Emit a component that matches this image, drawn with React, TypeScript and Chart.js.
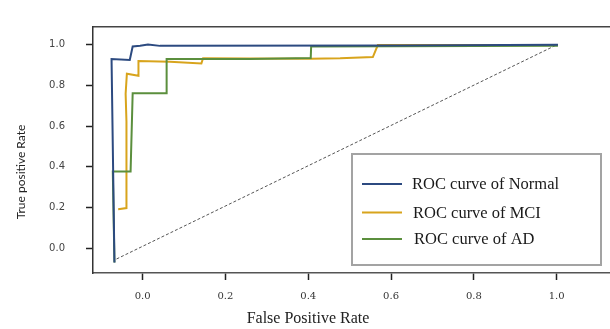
import React, { useEffect, useRef } from 'react';
import { Chart, registerables } from 'chart.js';

Chart.register(...registerables);

// ---- Data (values against the drawn axis ticks) ----
const SERIES_LABELS = ['ROC curve of Normal', 'ROC curve of MCI', 'ROC curve of AD'];

const NORMAL_FPR = [-0.068, -0.075, -0.031, -0.024, -0.006, 0.013, 0.042, 0.62, 1.003];
const NORMAL_TPR = [-0.069, 0.929, 0.925, 0.991, 0.995, 1.001, 0.994, 0.996, 0.999];

const MCI_FPR = [-0.059, -0.039, -0.038, -0.039, -0.040, -0.041, -0.038, -0.010, -0.010, 0.066, 0.142, 0.146, 0.259, 0.404, 0.477, 0.556, 0.568, 1.003];
const MCI_TPR = [0.192, 0.198, 0.235, 0.440, 0.622, 0.759, 0.857, 0.847, 0.920, 0.916, 0.908, 0.933, 0.932, 0.931, 0.933, 0.939, 0.998, 0.998];

const AD_FPR = [-0.068, -0.072, -0.029, -0.024, 0.058, 0.058, 0.259, 0.406, 0.407, 1.003];
const AD_TPR = [-0.069, 0.378, 0.378, 0.762, 0.762, 0.929, 0.929, 0.934, 0.991, 0.994];

const CHANCE_FPR = [-0.063, 0.996];
const CHANCE_TPR = [-0.052, 0.995];

const X_TICKS = [0, 0.2, 0.4, 0.6, 0.8, 1.0];
const Y_TICKS = [0, 0.2, 0.4, 0.6, 0.8, 1.0];

const X_TITLE = 'False Positive Rate';
const Y_TITLE = 'True positive Rate';

const COLORS = ['#2c4a80', '#d8a41c', '#5b8f3d'];

const toPoints = (xs: number[], ys: number[]) => xs.map((x, i) => ({ x, y: ys[i] }));

const overlayPlugin = {
  id: 'overlay',
  afterDraw(chart: any) {
    const ctx: CanvasRenderingContext2D = chart.ctx;
    const { left, right, top, bottom } = chart.chartArea;

    // Y axis title
    ctx.save();
    ctx.fillStyle = '#222';
    ctx.font = '12px Lato';
    ctx.textAlign = 'center';
    ctx.textBaseline = 'middle';
    ctx.translate(21, top + 145);
    ctx.rotate(-Math.PI / 2);
    ctx.fillText(Y_TITLE, 0, 0);
    ctx.restore();

    // X axis title
    ctx.save();
    ctx.fillStyle = '#222';
    ctx.font = '16px "Liberation Serif"';
    ctx.textAlign = 'center';
    ctx.textBaseline = 'middle';
    ctx.fillText(X_TITLE, left + 215, bottom + 46);
    ctx.restore();

    // Legend box
    const bx = right - 258;
    const by = bottom - 119;
    const bw = 249;
    const bh = 111;
    ctx.save();
    ctx.fillStyle = '#fff';
    ctx.fillRect(bx, by, bw, bh);
    ctx.strokeStyle = '#a3a3a3';
    ctx.lineWidth = 2;
    ctx.strokeRect(bx, by, bw, bh);
    ctx.font = '16.5px "Liberation Serif"';
    ctx.textAlign = 'left';
    ctx.textBaseline = 'middle';
    const rows = [30, 58.5, 85];
    chart.data.datasets.slice(0, 3).forEach((ds: any, i: number) => {
      const y = by + rows[i];
      ctx.strokeStyle = ds.borderColor;
      ctx.lineWidth = 2;
      ctx.beginPath();
      ctx.moveTo(bx + 10, y);
      ctx.lineTo(bx + 50, y);
      ctx.stroke();
      ctx.fillStyle = '#1a1a1a';
      ctx.fillText(ds.label, bx + 60 + i, y + 1);
    });
    ctx.restore();
  },
};

export default function App() {
  const ref = useRef<HTMLCanvasElement | null>(null);

  useEffect(() => {
    if (!ref.current) return;
    const chart = new Chart(ref.current, {
      type: 'line',
      data: {
        datasets: [
          {
            label: SERIES_LABELS[0],
            data: toPoints(NORMAL_FPR, NORMAL_TPR),
            borderColor: COLORS[0],
            borderWidth: 2,
            pointRadius: 0,
            tension: 0,
            order: 0,
          },
          {
            label: SERIES_LABELS[1],
            data: toPoints(MCI_FPR, MCI_TPR),
            borderColor: COLORS[1],
            borderWidth: 2,
            pointRadius: 0,
            tension: 0,
            order: 2,
          },
          {
            label: SERIES_LABELS[2],
            data: toPoints(AD_FPR, AD_TPR),
            borderColor: COLORS[2],
            borderWidth: 2,
            pointRadius: 0,
            tension: 0,
            order: 1,
          },
          {
            label: 'chance',
            data: toPoints(CHANCE_FPR, CHANCE_TPR),
            borderColor: '#555',
            borderWidth: 1,
            borderDash: [3, 2],
            pointRadius: 0,
            tension: 0,
            order: 3,
          },
        ],
      },
      options: {
        responsive: false,
        animation: false,
        layout: { padding: 0 },
        plugins: {
          legend: { display: false },
          tooltip: { enabled: false },
        },
        scales: {
          x: {
            type: 'linear',
            position: 'bottom',
            min: -0.1198,
            max: 1.1287,
            afterBuildTicks: (s: any) => {
              s.ticks = X_TICKS.map((v) => ({ value: v }));
            },
            afterFit: (s: any) => {
              s.height = 56;
            },
            ticks: {
              callback: (v: any) => Number(v).toFixed(1),
              font: { family: '"DejaVu Serif"', size: 10 },
              color: '#333',
              padding: 10,
              maxRotation: 0,
              autoSkip: false,
            },
            grid: {
              display: true,
              drawOnChartArea: false,
              drawTicks: true,
              tickLength: 7,
              tickWidth: 1.5,
              tickColor: '#222',
            },
            border: { display: true, color: '#555', width: 1.5 },
          },
          x2: {
            type: 'linear',
            position: 'top',
            min: -0.1198,
            max: 1.1287,
            afterFit: (s: any) => {
              s.height = 8;
            },
            ticks: { display: false },
            grid: { display: false, drawTicks: false },
            border: { display: true, color: '#444', width: 1.5 },
          },
          y: {
            type: 'linear',
            position: 'left',
            min: -0.1207,
            max: 1.0866,
            afterBuildTicks: (s: any) => {
              s.ticks = Y_TICKS.map((v) => ({ value: v }));
            },
            afterFit: (s: any) => {
              s.width = 93;
            },
            ticks: {
              callback: (v: any) => Number(v).toFixed(1),
              font: { family: '"DejaVu Sans"', size: 10 },
              color: '#444',
              padding: 21,
              autoSkip: false,
            },
            grid: {
              display: true,
              drawOnChartArea: false,
              drawTicks: true,
              tickLength: 7,
              tickWidth: 1.5,
              tickColor: '#222',
            },
            border: { display: true, color: '#333', width: 1.5 },
          },
        },
      },
      plugins: [overlayPlugin],
    });
    return () => chart.destroy();
  }, []);

  return (
    <div style={{ position: 'fixed', left: 0, top: 0, width: 610, height: 329, background: '#fff' }}>
      <canvas ref={ref} width={610} height={329} style={{ display: 'block' }} />
    </div>
  );
}
